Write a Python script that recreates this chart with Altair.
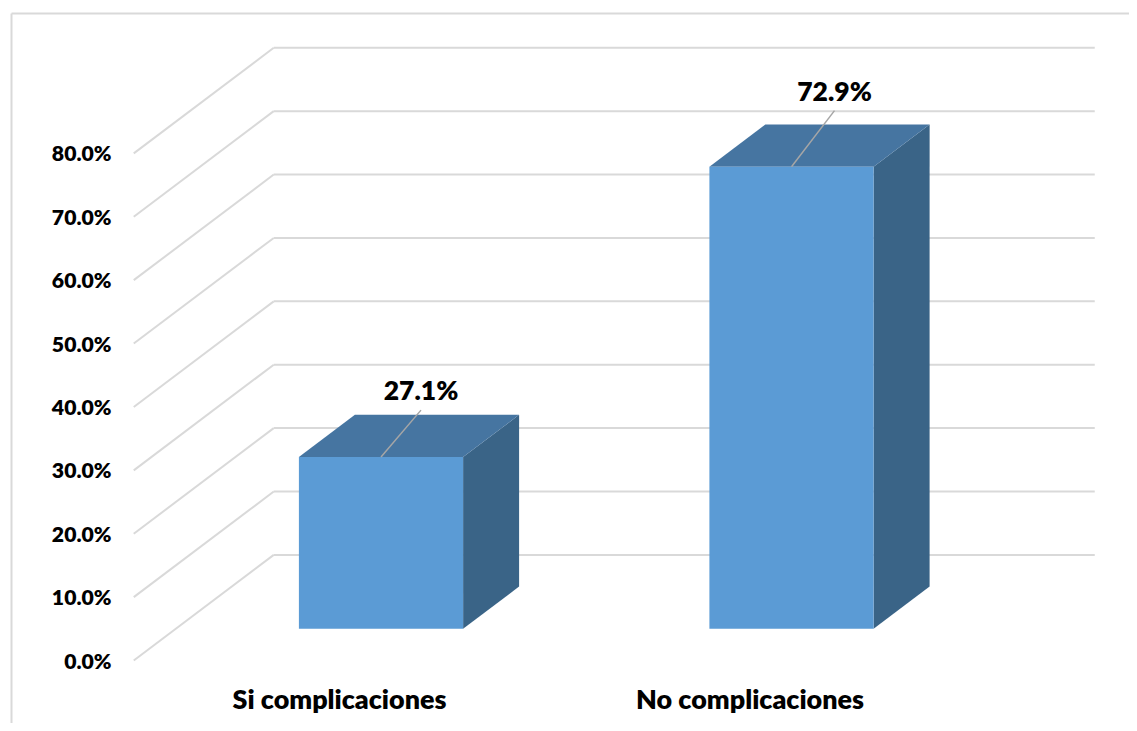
import altair as alt
import pandas as pd

categories = ["Si complicaciones", "No complicaciones"]
values = [27.1, 72.9]
value_labels = ["27.1%", "72.9%"]
tick_values = [0, 10, 20, 30, 40, 50, 60, 70, 80]

# Projection constants (screen pixels per unit)
PX_PER_PCT = 6.339
PX_PER_CAT = 410.5
DEPTH_X = 140 / PX_PER_CAT      # category units for full floor depth
DEPTH_Y = 105.6 / PX_PER_PCT    # percent units for full floor depth
BAR_W = 0.4
W0, W1 = 0.3, 0.7
LEADER_RISE = [7.4, 8.85]
LEADER_RUN = [40 / PX_PER_CAT, 43 / PX_PER_CAT]
LABEL_RISE = [10.3, 11.6]

# plot area on the page
LEFT, TOP, RIGHT, BOTTOM = 11.5, 13.5, 1129, 723
W, H = RIGHT - LEFT, BOTTOM - TOP
ORIGIN_X, ORIGIN_Y = 133.75, 660.5
x_dom = [(LEFT - ORIGIN_X) / PX_PER_CAT, (RIGHT - ORIGIN_X) / PX_PER_CAT]
y_dom = [(ORIGIN_Y - BOTTOM) / PX_PER_PCT, (ORIGIN_Y - TOP) / PX_PER_PCT]

xs = alt.Scale(domain=x_dom, nice=False, zero=False)
ys = alt.Scale(domain=y_dom, nice=False, zero=False)
X = lambda f="x", **k: alt.X(f"{f}:Q", scale=xs, **k)
Y = lambda f="y", **k: alt.Y(f"{f}:Q", scale=ys, **k)

GRID = "#d9d9d9"

# Walls
back, side = [], []
n = len(categories)
for t in tick_values:
    back.append(dict(x=DEPTH_X, x2=n + DEPTH_X, y=t + DEPTH_Y))
    side.append(dict(x=0.0, x2=DEPTH_X, y=t, y2=t + DEPTH_Y))

front_rows, top_rows, side_rows, leader_rows, label_rows = [], [], [], [], []
for i, (c, v) in enumerate(zip(categories, values)):
    xl = i + 0.5 - BAR_W / 2 + W0 * DEPTH_X
    xr = xl + BAR_W
    d = (W1 - W0)
    dx, dy = d * DEPTH_X, d * DEPTH_Y
    base = W0 * DEPTH_Y
    ftop = v + base
    front_rows.append(dict(x=xl, x2=xr, y=base, y2=ftop, cat=c))
    for px, a, b in [(xr, ftop, base), (xr + dx, ftop + dy, base + dy)]:
        side_rows.append(dict(x=px, y=a, y2=b, cat=c))
    for px, a, b in [(xl, ftop, ftop), (xl + dx, ftop + dy, ftop),
                     (xr, ftop + dy, ftop), (xr + dx, ftop + dy, ftop + dy)]:
        top_rows.append(dict(x=px, y=a, y2=b, cat=c))
    mid = (xl + xr) / 2
    leader_rows.append(dict(x=mid, x2=mid + LEADER_RUN[i], y=ftop, y2=ftop + LEADER_RISE[i]))
    label_rows.append(dict(x=mid + LEADER_RUN[i], y=ftop + LABEL_RISE[i], text=value_labels[i]))

frame = pd.DataFrame([
    dict(x=x_dom[0], x2=x_dom[0], y=y_dom[0], y2=y_dom[1]),
    dict(x=x_dom[0], x2=x_dom[1], y=y_dom[1], y2=y_dom[1]),
])

axis_font = dict(labelFont="Lato", labelFontWeight=800, labelColor="#000000", labelLimit=0,
                 domain=False, ticks=False, grid=False, title=None)

label_map = "{" + ",".join(f"'{i + 0.5}':'{c}'" for i, c in enumerate(categories)) + "}"

base_axes = alt.Chart(pd.DataFrame(dict(x=[0.5, 1.5], y=[0, 0]))).mark_point(opacity=0).encode(
    x=X(axis=alt.Axis(values=[0.5, 1.5], labelExpr=f"{label_map}[datum.value]", labelFontSize=26.9,
                      orient="bottom", offset=-23, labelPadding=0, labelBaseline="middle",
                      labelAngle=0, labelAlign="center", **axis_font)),
    y=Y(axis=alt.Axis(values=tick_values, format=".1f", labelExpr="datum.label + '%'", labelFontSize=21.2,
                      orient="left", offset=-99.5, labelPadding=0, labelOffset=1.5, labelAlign="right", labelBaseline="middle",
                      **axis_font)),
)

frame_layer = alt.Chart(frame).mark_rule(color=GRID, strokeWidth=2).encode(x=X(), x2="x2:Q", y=Y(), y2="y2:Q")
back_layer = alt.Chart(pd.DataFrame(back)).mark_rule(color=GRID, strokeWidth=2).encode(x=X(), x2="x2:Q", y=Y())
side_layer = alt.Chart(pd.DataFrame(side)).mark_rule(color=GRID, strokeWidth=2).encode(x=X(), x2="x2:Q", y=Y(), y2="y2:Q")
front_layer = alt.Chart(pd.DataFrame(front_rows)).mark_rect(color="#5B9BD5").encode(x=X(), x2="x2:Q", y=Y(), y2="y2:Q")
side_face = alt.Chart(pd.DataFrame(side_rows)).mark_area(color="#3A6487", opacity=1).encode(x=X(), y=Y(), y2="y2:Q", detail="cat:N")
top_face = alt.Chart(pd.DataFrame(top_rows)).mark_area(color="#4675A1", opacity=1).encode(x=X(), y=Y(), y2="y2:Q", detail="cat:N")
leader = alt.Chart(pd.DataFrame(leader_rows)).mark_rule(color="#A6A6A6", strokeWidth=1.5).encode(x=X(), x2="x2:Q", y=Y(), y2="y2:Q")
labels = alt.Chart(pd.DataFrame(label_rows)).mark_text(font="Lato", fontWeight=800, fontSize=26.5, color="#000000", baseline="middle").encode(
    x=X(), y=Y(), text="text:N")

chart = alt.layer(base_axes, frame_layer, back_layer, side_layer, side_face, top_face, front_layer, leader, labels).resolve_scale(
    x="shared", y="shared"
).properties(
    width=W, height=H,
    padding={"left": LEFT - 8, "top": TOP - 8, "right": 0, "bottom": 0},
    autosize=alt.AutoSizeParams(type="none"),
    background="white",
).configure_view(stroke=None)

chart.save("out.html", embed_options={"renderer": "svg", "actions": False})
